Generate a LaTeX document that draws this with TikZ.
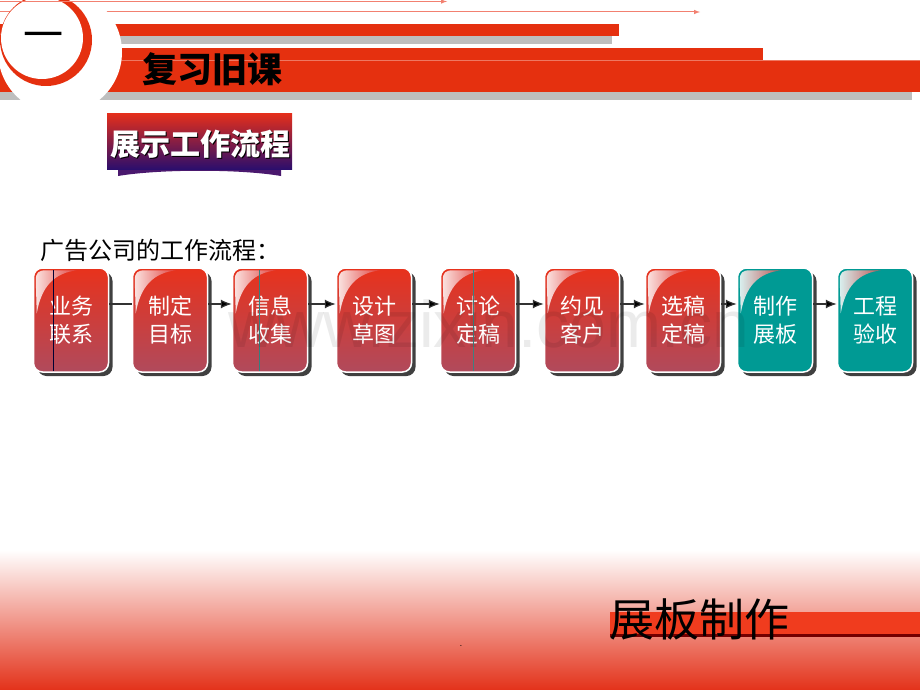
\documentclass[tikz,border=0pt]{standalone}
\usepackage{fontspec}
\newfontfamily\cjk{Noto Sans CJK SC}
\newfontfamily\wmfont{Liberation Sans}
\usetikzlibrary{shadows,arrows.meta}
\definecolor{barred}{HTML}{E5300F}
\definecolor{barshade}{HTML}{BEBEBE}
\definecolor{toplinered}{HTML}{F28070}
\definecolor{boxtop}{HTML}{E8321C}
\definecolor{boxbot}{HTML}{B04A5C}
\definecolor{boxteal}{HTML}{009A94}
\definecolor{glossred}{HTML}{E04848}
\definecolor{bannerred}{HTML}{E22E1C}
\definecolor{bannermid}{HTML}{B0203E}
\definecolor{bannerpurple}{HTML}{2C0E6C}
\definecolor{tailpurple}{HTML}{4A186E}
\definecolor{footred}{HTML}{E3321A}
\definecolor{footpink}{HTML}{F3B8B4}
\definecolor{footbar}{HTML}{F03C1E}
\begin{document}
\begin{tikzpicture}[x=1pt,y=-1pt,
  stepbox/.style={rectangle,rounded corners=9pt,minimum width=75pt,minimum height=104pt,
    inner sep=0pt,draw=white,line width=1.5pt,align=center,text=white,
    font=\cjk\fontsize{22}{28}\selectfont,
    drop shadow={shadow xshift=4pt,shadow yshift=-4pt,fill=black!75,opacity=1}},
  redbox/.style={stepbox,top color=boxtop,bottom color=boxbot},
  tealbox/.style={stepbox,fill=boxteal},
  gloss/.style={left color=white,right color=glossred,fill opacity=.85},
  link/.style={draw=black!80,line width=1.2pt},
  flow/.style={link,-{Latex[length=11pt,width=9pt,fill=black]}}]
\useasboundingbox (0,0) rectangle (920,690);
% header bars
\draw[toplinered,line width=1pt,-latex] (0,12)--(700,12);
\fill[barshade] (0,36) rectangle (612,44);
\fill[barred] (0,24) rectangle (619,36);
\fill[barshade] (0,92) rectangle (912,100);
\fill[barred] (0,48) rectangle (763,60);
\fill[barred] (0,60) rectangle (920,92);
\draw[white,opacity=.35] (0,60.5)--(920,60.5);
\fill[white] (60,52) circle (62pt);
\fill[barred] (46,40) circle (46pt);
\fill[white] (42,38) circle (41pt);
\draw[toplinered,line width=1pt,-latex] (0,1.5)--(447,1.5);
\node[font=\cjk\fontsize{40}{40}\selectfont] (yi) at (43,41) {一};
\node[font=\cjk\bfseries\fontsize{35}{35}\selectfont] (review) at (212,69) {复习旧课};
% banner
\fill[tailpurple] (118,168)--(118,176) .. controls (160,169) and (240,169) .. (281,176)--(281,168)--cycle;
\shade[top color=bannerred,middle color=bannermid,bottom color=bannerpurple] (107,114) rectangle (292,169);
\node[font=\cjk\bfseries\fontsize{30}{30}\selectfont,text=black] at (201.5,145.5) {展示工作流程};
\node[font=\cjk\bfseries\fontsize{30}{30}\selectfont,text=white] (showflow) at (200,144) {展示工作流程};
\node[font=\cjk\fontsize{24}{24}\selectfont] (lead) at (160,250) {广告公司的工作流程：};
% footer
\shade[top color=white,middle color=footpink,bottom color=footred] (0,550) rectangle (920,690);
\fill[black!55!red] (610,633) rectangle (920,637);
\fill[footbar] (610,612) rectangle (920,634);
\node[font=\cjk\fontsize{45}{45}\selectfont] (boardmake) at (699,619) {展板制作};
\node[font=\fontsize{10}{10}\selectfont] (dot) at (461,646) {.};
% flow
\node[redbox] (yewu) at (71,320) {业务\\联系};
\node[redbox] (zhiding) at (170,320) {制定\\目标};
\node[redbox] (xinxi) at (270,320) {信息\\收集};
\node[redbox] (sheji) at (374,320) {设计\\草图};
\node[redbox] (taolun) at (478,320) {讨论\\定稿};
\node[redbox] (yuejian) at (582,320) {约见\\客户};
\node[redbox] (xuangao) at (683,320) {选稿\\定稿};
\node[tealbox] (zhizuo) at (775,320) {制作\\展板};
\node[tealbox] (yanshou) at (875,320) {工程\\验收};
\foreach \b in {yewu,zhiding,xinxi,sheji,taolun,yuejian,xuangao,zhizuo,yanshou}
  \shade[gloss,shift={(\b.north west)}] (3,13) .. controls (3,5) and (6,3) .. (14,3)--(44,3)
    .. controls (22,6) and (9,18) .. (4,46)--cycle;
\draw[link] ([yshift=16pt]yewu.east)--([yshift=16pt]zhiding.west);
\draw[flow] ([yshift=16pt]zhiding.east)--([yshift=16pt]xinxi.west);
\draw[flow] ([yshift=16pt]xinxi.east)--([yshift=16pt]sheji.west);
\draw[flow] ([yshift=16pt]sheji.east)--([yshift=16pt]taolun.west);
\draw[flow] ([yshift=16pt]taolun.east)--([yshift=16pt]yuejian.west);
\draw[flow] ([yshift=16pt]yuejian.east)--([yshift=16pt]xuangao.west);
\draw[flow] ([yshift=16pt]xuangao.east)--([yshift=16pt]zhizuo.west);
\draw[flow] ([yshift=16pt]zhizuo.east)--([yshift=16pt]yanshou.west);
\draw[black!80!blue,line width=.8pt] (53,270)--(53,371);
\draw[teal!60!gray,line width=.8pt] (259,270)--(259,371);
\draw[teal!50!gray,line width=.8pt] (473,270)--(473,371);
\node[font=\wmfont\fontsize{66}{66}\selectfont,text=black,text opacity=.08,anchor=base west] (mark) at (225,347) {www.zixin.com.cn};
\end{tikzpicture}
\end{document}
